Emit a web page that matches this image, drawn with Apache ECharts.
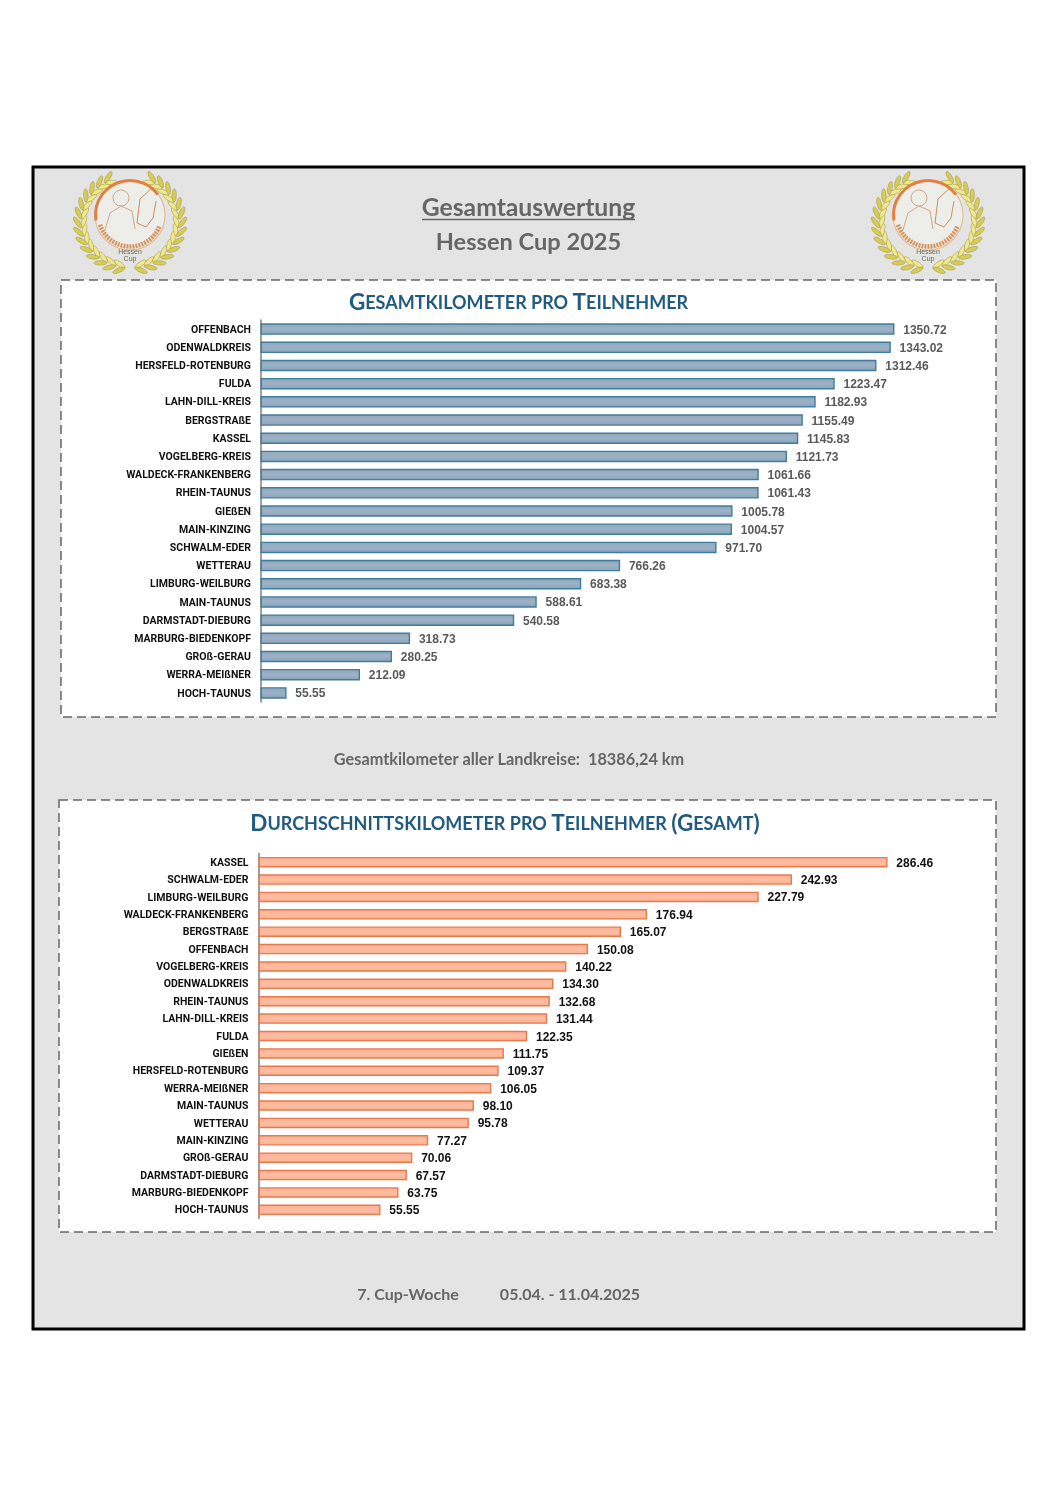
<!DOCTYPE html>
<html><head><meta charset="utf-8">
<style>html,body{margin:0;padding:0;background:#fff}#c{width:1058px;height:1497px}</style>
<script src="https://cdn.jsdelivr.net/npm/echarts@6/dist/echarts.min.js"></script>
</head><body><div id="c"></div>
<script>
const totalCategories = ['OFFENBACH','ODENWALDKREIS','HERSFELD-ROTENBURG','FULDA','LAHN-DILL-KREIS','BERGSTRAßE','KASSEL','VOGELBERG-KREIS','WALDECK-FRANKENBERG','RHEIN-TAUNUS','GIEßEN','MAIN-KINZING','SCHWALM-EDER','WETTERAU','LIMBURG-WEILBURG','MAIN-TAUNUS','DARMSTADT-DIEBURG','MARBURG-BIEDENKOPF','GROß-GERAU','WERRA-MEIßNER','HOCH-TAUNUS'];
const totalValues = [1350.72,1343.02,1312.46,1223.47,1182.93,1155.49,1145.83,1121.73,1061.66,1061.43,1005.78,1004.57,971.70,766.26,683.38,588.61,540.58,318.73,280.25,212.09,55.55];
const avgCategories = ['KASSEL','SCHWALM-EDER','LIMBURG-WEILBURG','WALDECK-FRANKENBERG','BERGSTRAßE','OFFENBACH','VOGELBERG-KREIS','ODENWALDKREIS','RHEIN-TAUNUS','LAHN-DILL-KREIS','FULDA','GIEßEN','HERSFELD-ROTENBURG','WERRA-MEIßNER','MAIN-TAUNUS','WETTERAU','MAIN-KINZING','GROß-GERAU','DARMSTADT-DIEBURG','MARBURG-BIEDENKOPF','HOCH-TAUNUS'];
const avgValues = [286.46,242.93,227.79,176.94,165.07,150.08,140.22,134.30,132.68,131.44,122.35,111.75,109.37,106.05,98.10,95.78,77.27,70.06,67.57,63.75,55.55];

const FONT='"Liberation Sans",Arial,sans-serif', CAT='Roboto,"Liberation Sans",sans-serif', HEAD='Lato,"Open Sans",sans-serif';
const grad=(a,b,c)=>({type:'linear',x:0,y:0,x2:0,y2:1,colorStops:[{offset:0,color:a},{offset:.5,color:b},{offset:1,color:c}]});

function leaf(px,py,theta,len,wid,fill){
  const x=px+len*Math.cos(theta), y=py+len*Math.sin(theta);
  return {type:'ellipse',shape:{cx:x,cy:y,rx:len,ry:wid},rotation:-theta,originX:x,originY:y,
    style:{fill:fill,stroke:'#9a9450',lineWidth:.5},silent:true};
}
function logo(cx,cy){
  const out=[];
  const wc=[cx,cy+7], rx=49, ry=46;
  for(const side of [-1,1]){
    for(let d=84;d>=-66;d-=11){
      const a=d*Math.PI/180;
      const px=wc[0]+side*rx*Math.cos(a), py=wc[1]+ry*Math.sin(a);
      const tx=side*Math.sin(a)*rx, ty=-Math.cos(a)*ry;
      const t=Math.atan2(ty,tx);
      out.push(leaf(px,py,t-side*.5,6.5,2.2,'#f1e88a'));
      out.push(leaf(px,py,t+side*.5,6.5,2.2,'#d9cc52'));
    }
  }
  out.push({type:'circle',shape:{cx:cx,cy:cy,r:35},style:{fill:'#ededea',stroke:'#e6bb98',lineWidth:1.2},silent:true});
  out.push({type:'arc',shape:{cx:cx,cy:cy,r:34.5,startAngle:Math.PI*.95,endAngle:Math.PI*1.8},style:{stroke:'#e2803f',lineWidth:3,fill:null},silent:true});
  out.push({type:'arc',shape:{cx:cx,cy:cy,r:31.5,startAngle:Math.PI*.12,endAngle:Math.PI*.9},style:{stroke:'#d7945f',lineWidth:4.5,lineDash:[2,1],fill:null},silent:true});
  out.push({type:'circle',shape:{cx:cx-9,cy:cy-17,r:8},style:{fill:'none',stroke:'#cfa88c',lineWidth:1},silent:true});
  out.push({type:'polyline',shape:{points:[[cx-25,cy+15],[cx-20,cy-2],[cx-9,cy-9],[cx+2,cy-4],[cx+5,cy+14]]},style:{stroke:'#cfa88c',lineWidth:1,fill:null},silent:true});
  out.push({type:'polyline',shape:{points:[[cx+22,cy-27],[cx+10,cy-16],[cx+7,cy+8],[cx+16,cy+12],[cx+23,cy+3],[cx+26,cy-14]]},style:{stroke:'#c98f63',lineWidth:1,fill:null},silent:true});
  out.push({type:'text',style:{x:cx,y:cy+37,text:'Hessen',fill:'#6b6a4f',font:'7px '+FONT,align:'center',verticalAlign:'middle'},silent:true});
  out.push({type:'text',style:{x:cx,y:cy+44,text:'Cup',fill:'#6b6a4f',font:'7px '+FONT,align:'center',verticalAlign:'middle'},silent:true});
  return out;
}
function heading(x,y,parts){
  return {type:'text',z:5,style:{x:x,y:y,align:'center',verticalAlign:'middle',
    rich:{b:{fontFamily:HEAD,fontWeight:'bold',fontSize:22.5,fill:'#1f5a80',color:'#1f5a80'},s:{fontFamily:HEAD,fontWeight:'bold',fontSize:18,fill:'#1f5a80',color:'#1f5a80'}},
    text:parts.map(p=>`{${p[0]}|${p[1]}}`).join('')},silent:true};
}
const txt=(x,y,t,font,align,fill)=>({type:'text',z:5,style:{x,y,text:t,font,fill:fill||'#666666',align:align||'center',verticalAlign:'middle'},silent:true});

const graphics=[
  {type:'rect',shape:{x:33,y:167,width:991,height:1162},style:{fill:'#e4e4e4',stroke:'#000',lineWidth:3},silent:true},
  {type:'rect',shape:{x:61,y:280,width:935,height:437},style:{fill:'#fff',stroke:'#666',lineWidth:1.5,lineDash:[9,5]},silent:true},
  {type:'rect',shape:{x:59,y:800,width:937,height:432},style:{fill:'#fff',stroke:'#666',lineWidth:1.5,lineDash:[9,5]},silent:true},
  ...logo(130,215),...logo(928,215),
  txt(528.5,208,'Gesamtauswertung','bold 24.7px '+HEAD),
  {type:'line',z:5,shape:{x1:422,y1:219.5,x2:635,y2:219.5},style:{stroke:'#666',lineWidth:1.5},silent:true},
  txt(528.5,242,'Hessen Cup 2025','bold 23.6px '+HEAD),
  heading(518.5,303,[['b','G'],['s','ESAMTKILOMETER PRO '],['b','T'],['s','EILNEHMER']]),
  txt(509,760,'Gesamtkilometer aller Landkreise:  18386,24 km','bold 16.3px '+HEAD),
  heading(505,824,[['b','D'],['s','URCHSCHNITTSKILOMETER PRO '],['b','T'],['s','EILNEHMER '],['b','(G'],['s','ESAMT'],['b',')']]),
  txt(408,1295,'7. Cup-Woche','bold 16px '+HEAD),
  txt(570,1295,'05.04. - 11.04.2025','bold 16px '+HEAD)
];

function yAxis(i,cats,margin){return {type:'category',gridIndex:i,inverse:true,data:cats,
  axisLine:{show:true,lineStyle:{color:'#7f7f7f',width:1.5}},axisTick:{show:false},
  axisLabel:{margin:margin,interval:0,formatter:'{a|{value}}',
    rich:{a:{color:'#111',fontFamily:CAT,fontWeight:'bold',fontSize:10.5,padding:[2,0,0,0]}}}};}
function xAxis(i,max){return {type:'value',gridIndex:i,min:0,max:max,show:false,splitLine:{show:false}};}
function series(i,vals,fill,stroke,labelColor,h){return {type:'bar',xAxisIndex:i,yAxisIndex:i,data:vals,barWidth:h,z:3,
  itemStyle:{color:fill,borderColor:stroke,borderWidth:1.4},
  label:{show:true,position:'right',distance:8,offset:[0.8,1.2],color:labelColor,fontFamily:FONT,fontWeight:'bold',fontSize:12,formatter:p=>p.value.toFixed(2)}};}

const chart=echarts.init(document.getElementById('c'),null,{width:1058,height:1497});
chart.setOption({
  animation:false,backgroundColor:'#fff',
  graphic:graphics,
  grid:[{left:260.5,top:320,width:704,height:382,containLabel:false},{left:258.5,top:853.5,width:658.8,height:365,containLabel:false}],
  xAxis:[xAxis(0,1500),xAxis(1,300)],
  yAxis:[yAxis(0,totalCategories,9.5),yAxis(1,avgCategories,10)],
  series:[
    series(0,totalValues,grad('#8ea6bc','#9db2c6','#8aa1b9'),'#3f7d9c','#595959',11.5),
    series(1,avgValues,grad('#fbae8e','#fdbda2','#fbb092'),'#e8794a','#111',10.5)
  ]
});
</script></body></html>
